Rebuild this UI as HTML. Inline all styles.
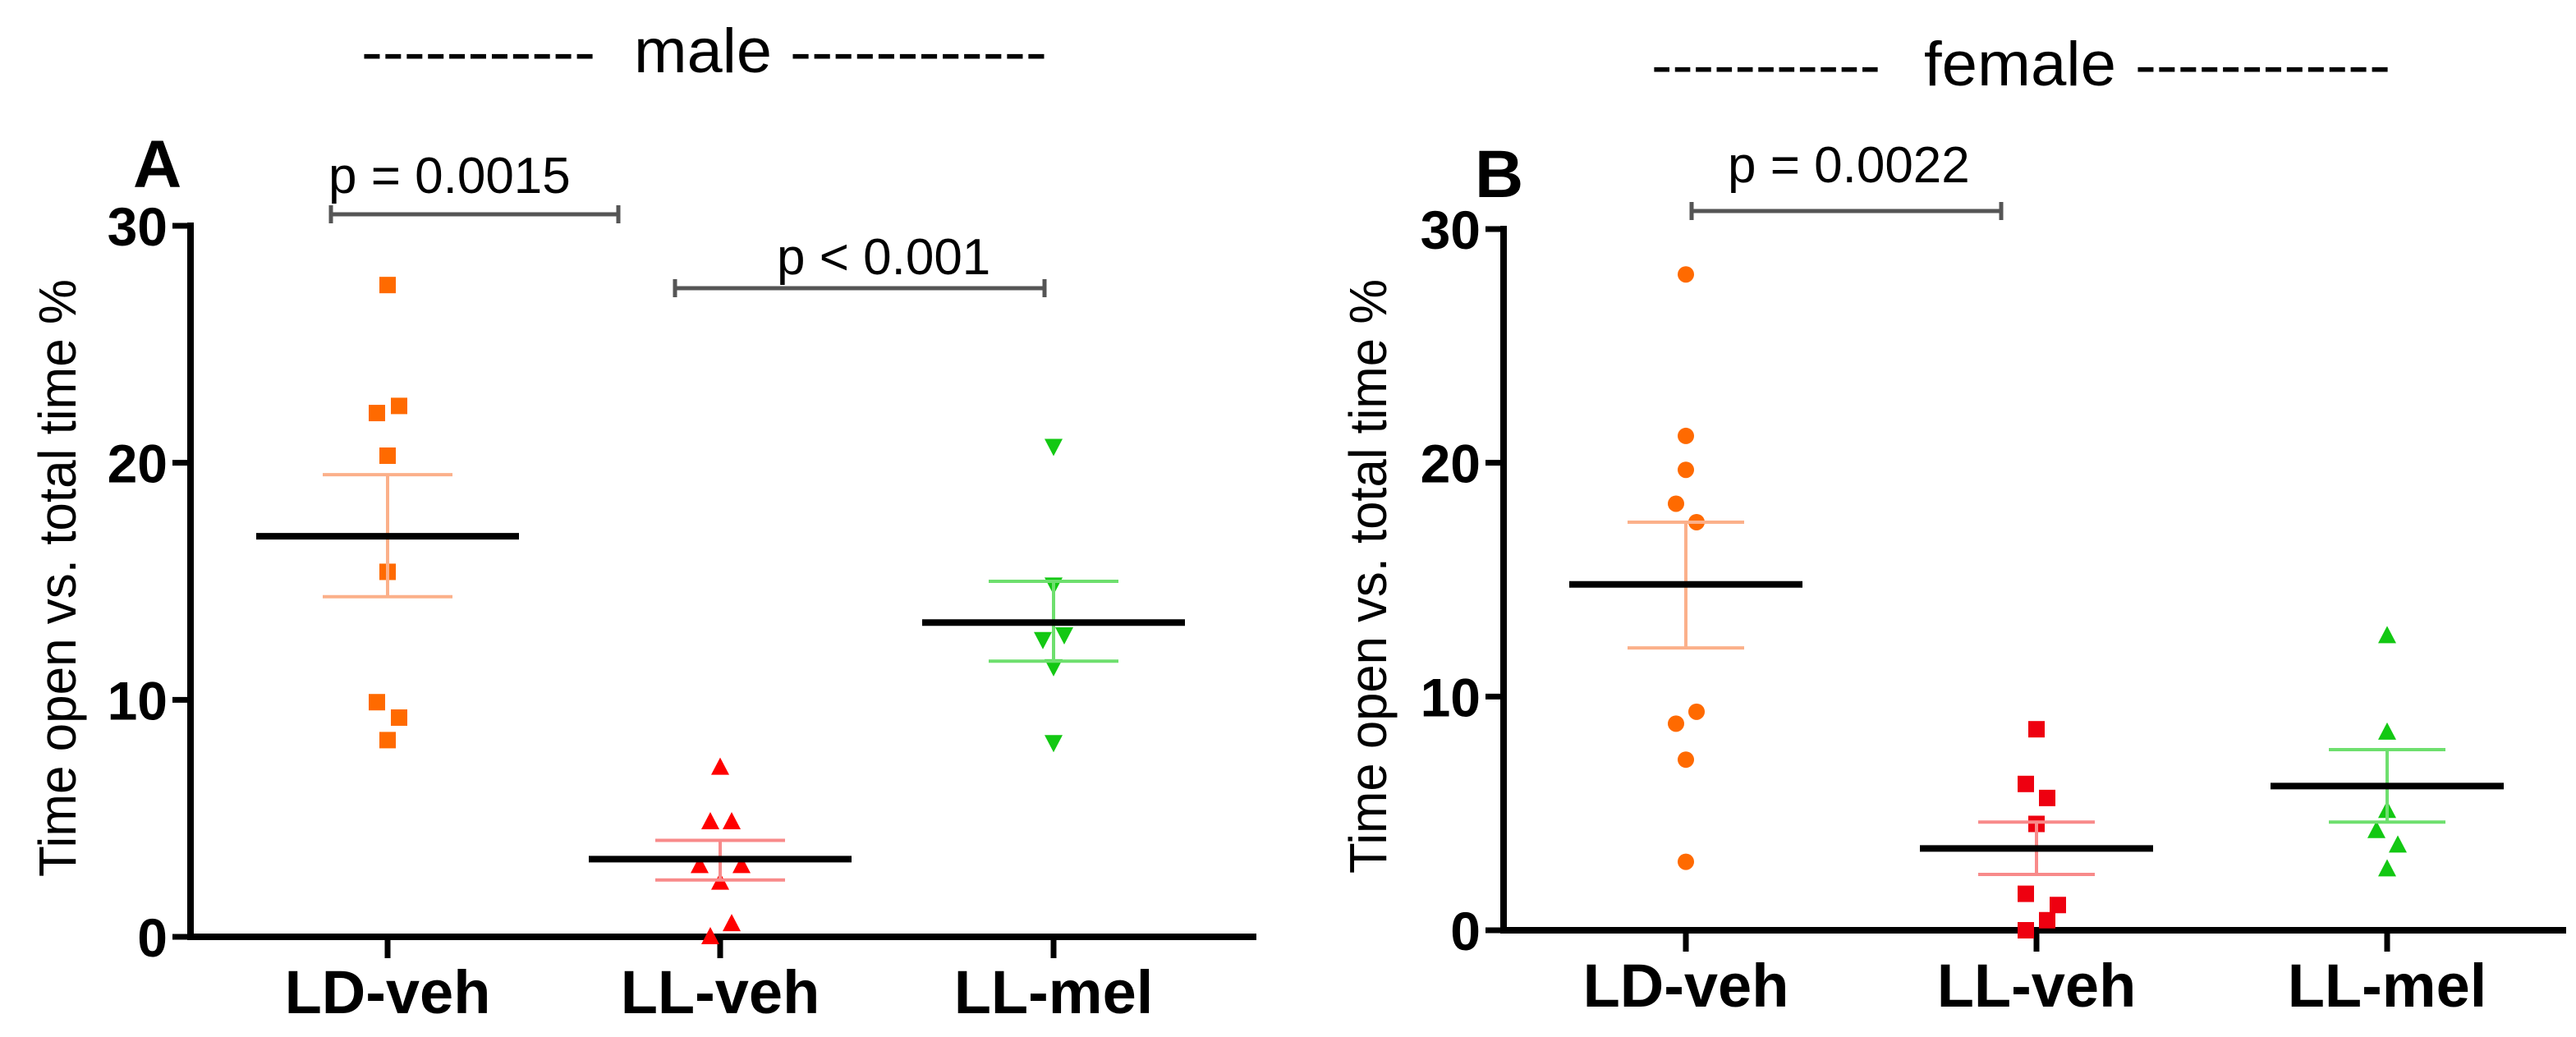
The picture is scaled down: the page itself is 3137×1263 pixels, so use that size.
<!DOCTYPE html>
<html><head><meta charset="utf-8"><style>
html,body{margin:0;padding:0;background:#fff}
svg{display:block;font-family:"Liberation Sans",Arial,sans-serif}
</style></head><body>
<svg id="fig" width="3137" height="1263" viewBox="0 0 3137 1263" xmlns="http://www.w3.org/2000/svg">
<rect width="3137" height="1263" fill="#fff"/>
<g id="gA"></g>
<g id="gB"></g>
</svg>
<script>
const categories = ["LD-veh","LL-veh","LL-mel"];
const yTicks = [0,10,20,30];
// Panel A (male)
const maleLDveh = [27.5,22.4,22.1,20.3,15.4,9.9,9.25,8.3];
const maleLLveh = [7.15,4.85,4.85,3.0,3.0,2.3,0.55,0.0];
const maleLLmel = [20.7,14.85,12.55,12.75,11.4,8.2];
const maleMean = [16.9,3.28,13.26];
const maleSemHi = [19.5,4.07,15.0];
const maleSemLo = [14.35,2.4,11.63];
// Panel B (female)
const femLDveh = [28.06,21.15,19.7,18.25,17.46,9.35,8.84,7.3,2.93];
const femLLveh = [8.6,6.26,5.66,4.55,1.56,1.08,0.43,0.0];
const femLLmel = [12.6,8.47,5.12,4.26,3.64,2.62];
const femMean = [14.8,3.5,6.17];
const femSemHi = [17.46,4.63,7.73];
const femSemLo = [12.08,2.39,4.63];

const NS="http://www.w3.org/2000/svg";
function mk(parent,tag,attrs,text){const e=document.createElementNS(NS,tag);for(const k in attrs)e.setAttribute(k,attrs[k]);if(text!==undefined)e.textContent=text;parent.appendChild(e);return e;}

function panel(g,cfg){
  const y=v=>cfg.y0-(v/30)*(cfg.y0-cfg.y30);
  const x=i=>cfg.cx[i];
  let t=mk(g,'text',{x:cfg.dashL[0],y:cfg.titleY,'font-size':72,textLength:cfg.dashL[1]-cfg.dashL[0],lengthAdjust:'spacingAndGlyphs'},'-----------');
  
  t=mk(g,'text',{x:cfg.titleX[0],y:cfg.titleY,'font-size':76,textLength:cfg.titleX[1]-cfg.titleX[0],lengthAdjust:'spacingAndGlyphs'},cfg.title);
  
  t=mk(g,'text',{x:cfg.dashR[0],y:cfg.titleY,'font-size':72,textLength:cfg.dashR[1]-cfg.dashR[0],lengthAdjust:'spacingAndGlyphs'},'------------');
  
  t=mk(g,'text',{x:cfg.letter[0],y:cfg.letter[1],'font-size':82,'font-weight':'bold'},cfg.letterText);
  
  let a=mk(g,'line',{x1:cfg.ax,y1:y(30)-4,x2:cfg.ax,y2:cfg.y0+4,stroke:'#000','stroke-width':8});
  
  a=mk(g,'line',{x1:cfg.ax-4,y1:cfg.y0,x2:cfg.axEnd,y2:cfg.y0,stroke:'#000','stroke-width':8});
  
  yTicks.forEach(v=>{
    const tk=mk(g,'line',{x1:cfg.ax-22,y1:y(v),x2:cfg.ax,y2:y(v),stroke:'#000','stroke-width':7});
    
    const tl=mk(g,'text',{x:cfg.ax-28,y:y(v)+24,'font-size':66,'font-weight':'bold','text-anchor':'end'},String(v));
    
  });
  categories.forEach((c,i)=>{
    const tk=mk(g,'line',{x1:x(i),y1:cfg.y0,x2:x(i),y2:cfg.y0+26,stroke:'#000','stroke-width':7});
    
    const tl=mk(g,'text',{x:x(i),y:cfg.xLabY,'font-size':74,'font-weight':'bold','text-anchor':'middle'},c);
    
  });
  t=mk(g,'text',{x:0,y:0,'font-size':64,'text-anchor':'middle',transform:`translate(${cfg.yTitleX},${(cfg.yTitleTop+cfg.yTitleBot)/2}) rotate(-90)`,textLength:cfg.yTitleBot-cfg.yTitleTop,lengthAdjust:'spacingAndGlyphs'},'Time open vs. total time %');
  
  cfg.brackets.forEach(b=>{
    const by=b.y;
    const l=mk(g,'path',{d:`M${b.x1},${by}H${b.x2}M${b.x1},${by-11}V${by+11}M${b.x2},${by-11}V${by+11}`,stroke:'#555','stroke-width':5,fill:'none'});
    
    const bt=mk(g,'text',{x:b.tx,y:b.ty,'font-size':62},b.text);
    
  });
  cfg.series.forEach((s,i)=>{
    s.vals.forEach((v,j)=>{
      const px=x(i)+s.jit[j], py=y(v); let m;
      if(s.shape==='sq') m=mk(g,'rect',{x:px-10,y:py-10,width:20,height:20,fill:s.color});
      else if(s.shape==='ci') m=mk(g,'circle',{cx:px,cy:py,r:10,fill:s.color});
      else if(s.shape==='up') m=mk(g,'path',{d:`M${px},${py-12}L${px+11},${py+9}L${px-11},${py+9}Z`,fill:s.color});
      else m=mk(g,'path',{d:`M${px},${py+12}L${px+11},${py-9}L${px-11},${py-9}Z`,fill:s.color});
      
    });
    const e=mk(g,'path',{d:`M${x(i)-cfg.cap},${y(cfg.hi[i])}H${x(i)+cfg.cap}M${x(i)-cfg.cap},${y(cfg.lo[i])}H${x(i)+cfg.cap}M${x(i)},${y(cfg.hi[i])}V${y(cfg.lo[i])}`,stroke:s.light,'stroke-width':4,fill:'none'});
    
    const mn=mk(g,'line',{x1:x(i)-cfg.mw,y1:y(cfg.mean[i]),x2:x(i)+cfg.mw,y2:y(cfg.mean[i]),stroke:'#000','stroke-width':8});
    
  });
}

panel(document.getElementById('gA'),{
  title:'male',titleX:[772,940],titleY:88,dashL:[440,725],dashR:[962,1275],
  letterText:'A',letter:[162,228],
  ax:232,axEnd:1530,y0:1141,y30:275,cx:[472,877,1283],xLabY:1234,
  yTitleX:92,yTitleTop:340,yTitleBot:1068,
  cap:79,mw:160,mean:maleMean,hi:maleSemHi,lo:maleSemLo,
  brackets:[{x1:403,x2:753,y:261,text:'p = 0.0015',tx:400,ty:235},
            {x1:822,x2:1272,y:351,text:'p < 0.001',tx:946,ty:334}],
  series:[
    {vals:maleLDveh,shape:'sq',color:'#ff6a00',light:'#fbb08a',jit:[0,14,-13,0,0,-13,14,0]},
    {vals:maleLLveh,shape:'up',color:'#ff0000',light:'#f88a8a',jit:[0,-12,14,-25,26,0,14,-12]},
    {vals:maleLLmel,shape:'dn',color:'#13c813',light:'#6edf6e',jit:[0,0,-13,13,0,0]}
  ]
});
panel(document.getElementById('gB'),{
  title:'female',titleX:[2343,2577],titleY:104,dashL:[2011,2290],dashR:[2600,2911],
  letterText:'B',letter:[1796,240],
  ax:1831,axEnd:3125,y0:1133,y30:279,cx:[2053,2480,2907],xLabY:1226,
  yTitleX:1688,yTitleTop:340,yTitleBot:1064,
  cap:71,mw:142,mean:femMean,hi:femSemHi,lo:femSemLo,
  brackets:[{x1:2060,x2:2437,y:257,text:'p = 0.0022',tx:2104,ty:222}],
  series:[
    {vals:femLDveh,shape:'ci',color:'#ff6a00',light:'#fbb08a',jit:[0,0,0,-12,13,13,-12,0,0]},
    {vals:femLLveh,shape:'sq',color:'#ee0010',light:'#f88a8a',jit:[0,-13,13,0,-13,26,13,-13]},
    {vals:femLLmel,shape:'up',color:'#13c813',light:'#6edf6e',jit:[0,0,0,-13,13,0]}
  ]
});
</script>
</body></html>
